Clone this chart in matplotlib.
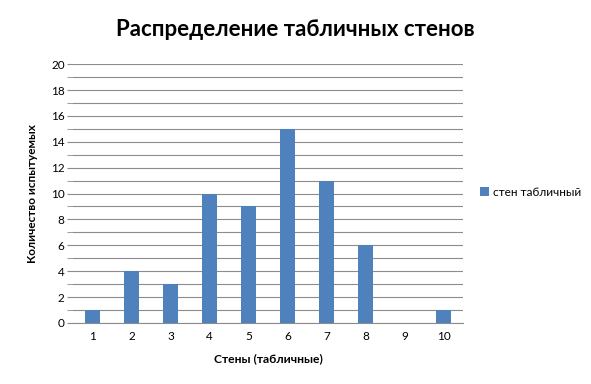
import matplotlib
matplotlib.use("Agg")
import matplotlib.pyplot as plt
import numpy as np

plt.rcParams['font.family'] = ['Lato', 'DejaVu Sans']

categories = ["1", "2", "3", "4", "5", "6", "7", "8", "9", "10"]
values = [1, 4, 3, 10, 9, 15, 11, 6, 0, 1]
series_name = "стен табличный"

fig = plt.figure(figsize=(5.91, 3.84), dpi=100)
ax = fig.add_axes([0.1235, 0.159, 0.66, 0.674])

x = np.arange(len(categories))
ax.bar(x, values, width=0.38, color="#4F81BD", label=series_name, zorder=3)

ax.set_xlim(-0.5, len(categories) - 0.5)
ax.set_ylim(0, 20)
ax.set_yticks(np.arange(0, 21, 2))
ax.set_yticks(np.arange(0, 21, 1), minor=True)
ax.grid(axis="y", which="both", color="#8c8c8c", linewidth=0.8, zorder=0)
ax.set_xticks(x)
ax.set_xticklabels(categories)

for s in ["top", "right", "left"]:
    ax.spines[s].set_visible(False)
ax.spines["bottom"].set_color("#8c8c8c")
ax.tick_params(axis="y", which="both", length=4, color="#8c8c8c", labelsize=8.5, pad=2)
ax.tick_params(axis="x", length=0, labelsize=8.5, pad=6)

ax.set_xlabel("Стены (табличные)", fontsize=8.7, fontweight="bold", labelpad=8)
ax.set_ylabel("Количество испытуемых", fontsize=8.5, fontweight="bold", labelpad=9)

fig.suptitle("Распределение табличных стенов", fontsize=16, fontweight="bold", y=0.95)

fig.legend(loc="center left", bbox_to_anchor=(0.795, 0.5), frameon=False, fontsize=8.5,
           handlelength=0.7, handleheight=0.7, handletextpad=0.4)

fig.savefig("out.png", dpi=100)
